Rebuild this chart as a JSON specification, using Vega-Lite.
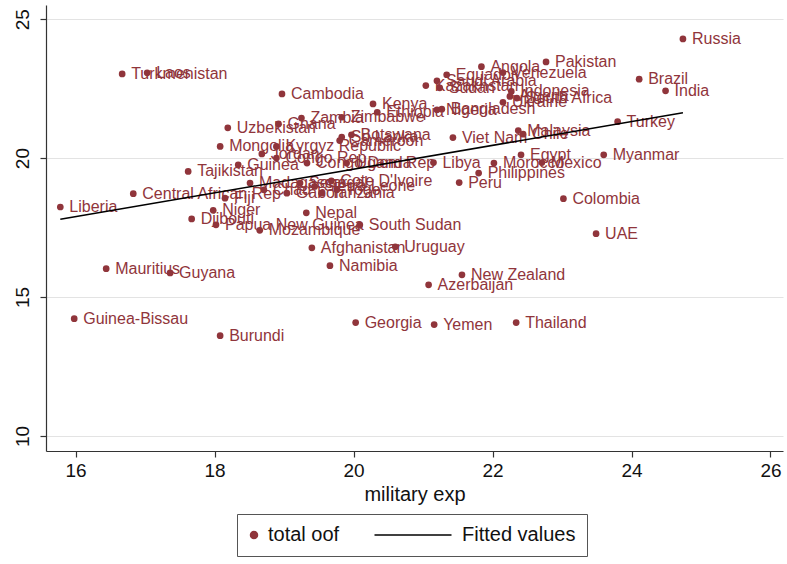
{
  "$schema": "https://vega.github.io/schema/vega-lite/v6.json",
  "width": 737,
  "height": 446,
  "autosize": {"type": "none"},
  "padding": {"left": 46, "top": 5, "right": 4, "bottom": 113},
  "background": "white",
  "config": {
    "view": {"stroke": null},
    "font": "Liberation Sans",
    "axis": {"labelFont": "Liberation Sans", "titleFont": "Liberation Sans"},
    "legend": {"labelFont": "Liberation Sans"}
  },
  "datasets": {
    "pts": [
      {"country": "Russia", "mil": 24.74, "oof": 24.29},
      {"country": "Pakistan", "mil": 22.77, "oof": 23.46},
      {"country": "Angola", "mil": 21.84, "oof": 23.29},
      {"country": "Brazil", "mil": 24.11, "oof": 22.84},
      {"country": "India", "mil": 24.49, "oof": 22.42},
      {"country": "Turkey", "mil": 23.80, "oof": 21.31},
      {"country": "Myanmar", "mil": 23.60, "oof": 20.12},
      {"country": "Colombia", "mil": 23.02, "oof": 18.54},
      {"country": "UAE", "mil": 23.49, "oof": 17.28},
      {"country": "New Zealand", "mil": 21.56, "oof": 15.80},
      {"country": "Azerbaijan", "mil": 21.08, "oof": 15.44},
      {"country": "Thailand", "mil": 22.34, "oof": 14.08},
      {"country": "Yemen", "mil": 21.16, "oof": 14.01},
      {"country": "Georgia", "mil": 20.03, "oof": 14.08},
      {"country": "Burundi", "mil": 18.08, "oof": 13.61},
      {"country": "Guinea-Bissau", "mil": 15.98, "oof": 14.22},
      {"country": "Mauritius", "mil": 16.44, "oof": 16.02},
      {"country": "Guyana", "mil": 17.36, "oof": 15.87},
      {"country": "Namibia", "mil": 19.66, "oof": 16.13},
      {"country": "Afghanistan", "mil": 19.40, "oof": 16.77},
      {"country": "Uruguay", "mil": 20.60, "oof": 16.81},
      {"country": "South Sudan", "mil": 20.09, "oof": 17.60},
      {"country": "Nepal", "mil": 19.32, "oof": 18.03},
      {"country": "Mozambique", "mil": 18.65, "oof": 17.40},
      {"country": "Papua New Guinea", "mil": 18.02, "oof": 17.60},
      {"country": "Djibouti", "mil": 17.67, "oof": 17.81},
      {"country": "Niger", "mil": 17.98, "oof": 18.12},
      {"country": "Fiji", "mil": 18.15, "oof": 18.56},
      {"country": "Central African Rep", "mil": 16.83, "oof": 18.72},
      {"country": "Liberia", "mil": 15.78, "oof": 18.24},
      {"country": "Tajikistan", "mil": 17.62, "oof": 19.52},
      {"country": "Guinea", "mil": 18.34, "oof": 19.76},
      {"country": "Mongolia", "mil": 18.08, "oof": 20.42},
      {"country": "Uzbekistan", "mil": 18.19, "oof": 21.09},
      {"country": "Cambodia", "mil": 18.97, "oof": 22.31},
      {"country": "Laos", "mil": 17.03, "oof": 23.07},
      {"country": "Turkmenistan", "mil": 16.67, "oof": 23.03},
      {"country": "Ghana", "mil": 18.92, "oof": 21.23},
      {"country": "Zambia", "mil": 19.25, "oof": 21.44},
      {"country": "Zimbabwe", "mil": 19.83, "oof": 21.47},
      {"country": "Kenya", "mil": 20.28, "oof": 21.95},
      {"country": "Ethiopia", "mil": 20.34, "oof": 21.65},
      {"country": "Kyrgyz Republic", "mil": 18.89, "oof": 20.42},
      {"country": "Jordan", "mil": 18.68, "oof": 20.15},
      {"country": "Congo Rep", "mil": 18.89, "oof": 20.00},
      {"country": "Congo Dem Rep", "mil": 19.33, "oof": 19.82},
      {"country": "Uganda", "mil": 19.90, "oof": 19.82},
      {"country": "Sri Lanka", "mil": 19.83, "oof": 20.76},
      {"country": "Botswana", "mil": 19.97, "oof": 20.84},
      {"country": "Cameroon", "mil": 19.80, "oof": 20.63},
      {"country": "Libya", "mil": 21.15, "oof": 19.84},
      {"country": "Morocco", "mil": 22.02, "oof": 19.82},
      {"country": "Mexico", "mil": 22.71, "oof": 19.84},
      {"country": "Egypt", "mil": 22.41, "oof": 20.12},
      {"country": "Philippines", "mil": 21.80, "oof": 19.46},
      {"country": "Peru", "mil": 21.52, "oof": 19.12},
      {"country": "Viet Nam", "mil": 21.43, "oof": 20.74},
      {"country": "Malaysia", "mil": 22.37, "oof": 20.99},
      {"country": "Chile", "mil": 22.44, "oof": 20.86},
      {"country": "Bangladesh", "mil": 21.27, "oof": 21.76},
      {"country": "Nigeria", "mil": 21.20, "oof": 21.74},
      {"country": "Ukraine", "mil": 22.15, "oof": 22.01},
      {"country": "Indonesia", "mil": 22.27, "oof": 22.40},
      {"country": "South Africa", "mil": 22.35, "oof": 22.16},
      {"country": "Algeria", "mil": 22.25, "oof": 22.22},
      {"country": "Venezuela", "mil": 22.15, "oof": 23.08},
      {"country": "Equador", "mil": 21.34, "oof": 23.00},
      {"country": "Saudi Arabia", "mil": 21.20, "oof": 22.78},
      {"country": "Kazakhstan", "mil": 21.04, "oof": 22.61},
      {"country": "Sudan", "mil": 21.24, "oof": 22.53},
      {"country": "Madagascar", "mil": 18.51, "oof": 19.10},
      {"country": "Senegal", "mil": 19.23, "oof": 19.10},
      {"country": "Cote D'Ivoire", "mil": 19.68, "oof": 19.18},
      {"country": "Chad", "mil": 18.71, "oof": 18.86},
      {"country": "Gabon", "mil": 19.04, "oof": 18.74},
      {"country": "Tanzania", "mil": 19.54, "oof": 18.74},
      {"country": "Togo", "mil": 19.76, "oof": 18.86},
      {"country": "Sierra Leone", "mil": 19.44, "oof": 18.98}
    ],
    "fit": [
      {"mil": 15.78, "fit": 17.80},
      {"mil": 24.74, "fit": 21.63}
    ]
  },
  "encoding": {
    "x": {
      "field": "mil", "type": "quantitative",
      "scale": {"domain": [15.574, 26.18], "nice": false, "zero": false},
      "axis": {
        "title": "military exp", "titleFontSize": 20, "titleFontWeight": "normal", "titleColor": "#111",
        "titlePadding": 4,
        "values": [16, 18, 20, 22, 24, 26], "grid": false,
        "domainColor": "#333", "domainWidth": 1.2,
        "tickColor": "#333", "tickSize": 6, "tickWidth": 1.2,
        "labelFontSize": 19, "labelColor": "#111", "labelPadding": 4
      }
    }
  },
  "layer": [
    {
      "data": {"name": "pts"},
      "mark": {"type": "circle", "size": 45, "opacity": 1},
      "encoding": {
        "y": {
          "field": "oof", "type": "quantitative",
          "scale": {"domain": [9.46, 25.51], "nice": false, "zero": false},
          "axis": {
            "title": null,
            "values": [10, 15, 20, 25],
            "grid": true, "gridColor": "#e3e3e3", "gridWidth": 1,
            "domainColor": "#333", "domainWidth": 1.2,
            "tickColor": "#333", "tickSize": 6, "tickWidth": 1.2,
            "labelFontSize": 19, "labelColor": "#111",
            "labelAngle": 270, "labelAlign": "center", "labelBaseline": "alphabetic",
            "labelPadding": 12
          }
        },
        "color": {
          "datum": "total oof",
          "scale": {"domain": ["total oof", "Fitted values"], "range": ["#90353B", "#000000"]},
          "legend": {
            "title": null,
            "orient": "none",
            "legendX": 191,
            "legendY": 509,
            "direction": "horizontal",
            "labelFontSize": 20,
            "labelColor": "#111",
            "labelOffset": 4,
            "symbolOffset": -4,
            "columnPadding": 31,
            "padding": 11,
            "strokeColor": "#555",
            "symbolSize": 49,
            "symbolStrokeWidth": 1.5,
            "encode": {
              "symbols": {
                "update": {
                  "shape": {"signal": "datum.value === 'Fitted values' ? 'M-21,0H1' : 'circle'"},
                  "fill": {"signal": "datum.value === 'Fitted values' ? 'transparent' : '#90353B'"},
                  "stroke": {"signal": "datum.value === 'Fitted values' ? '#000000' : 'transparent'"},
                  "strokeWidth": {"value": 1.5},
                  "opacity": {"value": 1},
                  "size": {"value": 49}
                }
              }
            }
          }
        }
      }
    },
    {
      "data": {"name": "pts"},
      "mark": {"type": "text", "align": "left", "baseline": "middle", "dx": 9, "fontSize": 16, "font": "Liberation Sans", "color": "#90353B"},
      "encoding": {
        "y": {"field": "oof", "type": "quantitative"},
        "text": {"field": "country"}
      }
    },
    {
      "data": {"name": "fit"},
      "mark": {"type": "line", "strokeWidth": 1.5},
      "encoding": {
        "y": {"field": "fit", "type": "quantitative"},
        "color": {
          "datum": "Fitted values",
          "legend": {
            "title": null,
            "orient": "none",
            "legendX": 191,
            "legendY": 509,
            "direction": "horizontal",
            "labelFontSize": 20,
            "labelColor": "#111",
            "labelOffset": 4,
            "symbolOffset": -4,
            "columnPadding": 31,
            "padding": 11,
            "strokeColor": "#555",
            "symbolSize": 49,
            "symbolStrokeWidth": 1.5,
            "encode": {
              "symbols": {
                "update": {
                  "shape": {"signal": "datum.value === 'Fitted values' ? 'M-21,0H1' : 'circle'"},
                  "fill": {"signal": "datum.value === 'Fitted values' ? 'transparent' : '#90353B'"},
                  "stroke": {"signal": "datum.value === 'Fitted values' ? '#000000' : 'transparent'"},
                  "strokeWidth": {"value": 1.5},
                  "opacity": {"value": 1},
                  "size": {"value": 49}
                }
              }
            }
          }
        }
      }
    }
  ]
}
